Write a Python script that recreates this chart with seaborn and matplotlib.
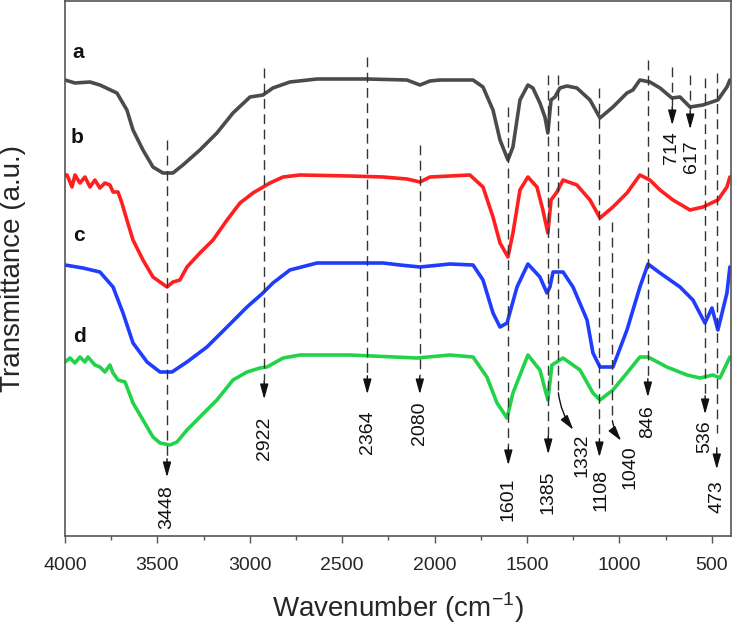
import numpy as np
import pandas as pd
import matplotlib
matplotlib.use("Agg")
import matplotlib.pyplot as plt
import seaborn as sns

wn_a = [4000, 3946, 3865, 3811, 3719, 3665, 3632, 3578, 3524, 3470, 3416, 3362, 3270, 3178,
        3091, 2999, 2929, 2875, 2783, 2636, 2366, 2150, 2079, 2025, 1971, 1792, 1738, 1684,
        1646, 1603, 1576, 1538, 1495, 1468, 1430, 1403, 1387, 1370, 1349, 1322, 1284, 1230,
        1159, 1105, 1035, 959, 927, 889, 835, 780, 716, 672, 618, 548, 467, 418, 402]
t_a = [4.56, 4.53, 4.54, 4.51, 4.43, 4.26, 4.06, 3.86, 3.69, 3.63, 3.63, 3.71, 3.86, 4.03,
       4.23, 4.39, 4.41, 4.48, 4.54, 4.57, 4.57, 4.56, 4.51, 4.55, 4.56, 4.56, 4.49, 4.26,
       3.96, 3.76, 3.89, 4.36, 4.51, 4.48, 4.33, 4.19, 4.03, 4.36, 4.39, 4.48, 4.50, 4.48,
       4.36, 4.18, 4.29, 4.43, 4.46, 4.56, 4.54, 4.48, 4.38, 4.39, 4.29, 4.31, 4.36, 4.49, 4.56]

wn_b = [4000, 3989, 3962, 3946, 3919, 3892, 3865, 3838, 3811, 3784, 3757, 3740, 3713, 3692,
        3665, 3632, 3578, 3524, 3486, 3448, 3416, 3378, 3340, 3270, 3199, 3123, 3053, 2983,
        2891, 2820, 2728, 2458, 2279, 2149, 2079, 2025, 1809, 1738, 1684, 1646, 1603, 1576,
        1538, 1495, 1446, 1414, 1387, 1370, 1338, 1305, 1230, 1159, 1105, 1035, 959, 889,
        835, 780, 710, 618, 548, 467, 418, 402]
t_b = [3.61, 3.61, 3.49, 3.61, 3.53, 3.59, 3.49, 3.56, 3.48, 3.53, 3.51, 3.44, 3.44, 3.33,
       3.16, 2.96, 2.76, 2.59, 2.54, 2.49, 2.54, 2.56, 2.69, 2.83, 2.96, 3.16, 3.33, 3.43,
       3.53, 3.59, 3.61, 3.60, 3.59, 3.57, 3.54, 3.59, 3.61, 3.49, 3.19, 2.93, 2.79, 3.03,
       3.46, 3.59, 3.49, 3.26, 3.03, 3.36, 3.44, 3.56, 3.51, 3.36, 3.18, 3.29, 3.43, 3.61,
       3.56, 3.46, 3.36, 3.26, 3.29, 3.36, 3.49, 3.59]

wn_c = [4000, 3903, 3811, 3740, 3686, 3632, 3556, 3486, 3421, 3340, 3232, 3123, 3015, 2929,
        2875, 2783, 2636, 2279, 2187, 2079, 1917, 1792, 1738, 1684, 1646, 1608, 1554, 1495,
        1430, 1392, 1376, 1359, 1305, 1251, 1175, 1143, 1105, 1035, 959, 889, 845, 780, 672,
        602, 537, 499, 467, 418, 402]
t_c = [2.71, 2.68, 2.64, 2.49, 2.23, 1.93, 1.74, 1.64, 1.64, 1.74, 1.89, 2.09, 2.29, 2.43,
       2.53, 2.66, 2.73, 2.73, 2.71, 2.69, 2.72, 2.71, 2.56, 2.23, 2.09, 2.13, 2.49, 2.72,
       2.59, 2.43, 2.49, 2.64, 2.64, 2.49, 2.16, 1.83, 1.69, 1.69, 2.06, 2.49, 2.72, 2.63,
       2.49, 2.36, 2.13, 2.28, 2.06, 2.43, 2.69]

wn_d = [4000, 3973, 3946, 3919, 3892, 3876, 3838, 3811, 3784, 3757, 3740, 3713, 3675, 3632,
        3578, 3524, 3486, 3432, 3394, 3340, 3270, 3178, 3091, 3015, 2945, 2907, 2820, 2728,
        2458, 2095, 1917, 1792, 1717, 1662, 1608, 1576, 1495, 1430, 1387, 1365, 1305, 1213,
        1143, 1105, 1035, 959, 889, 845, 743, 634, 564, 494, 456, 402]
t_d = [1.74, 1.78, 1.73, 1.79, 1.74, 1.79, 1.71, 1.69, 1.64, 1.71, 1.63, 1.56, 1.54, 1.33,
       1.16, 0.99, 0.93, 0.91, 0.94, 1.06, 1.19, 1.36, 1.56, 1.64, 1.68, 1.69, 1.78, 1.81,
       1.81, 1.78, 1.81, 1.79, 1.59, 1.33, 1.18, 1.43, 1.81, 1.66, 1.36, 1.71, 1.78, 1.66,
       1.43, 1.36, 1.46, 1.63, 1.79, 1.79, 1.69, 1.61, 1.58, 1.61, 1.58, 1.79]

curve_names = ["a", "b", "c", "d"]
curve_colors = ["#4b4b4b", "#ff1f1f", "#1f3cff", "#22d34a"]

# peak labels
peaks = [3448, 2922, 2364, 2080, 1601, 1385, 1332, 1108, 1040, 846, 714, 617, 536, 473]
peak_text = [str(p) for p in peaks]

# layout of the peak markers: dashed top, dashed end, arrow tip (x, y), label (x, y)
line_top = [3.96, 4.68, 4.79, 3.91, 4.29, 4.61, 4.61, 4.48, 3.14, 4.76, 4.69, 4.61, 4.58, 4.63]
line_end = [0.78, 1.56, 1.61, 1.61, 0.90, 1.01, 1.46, 0.98, 1.18, 1.58, 4.30, 4.26, 1.41, 1.03]
tip_x = [3448, 2922, 2364, 2080, 1601, 1385, 1240, 1108, 981, 846, 714, 617, 536, 473]
tip_y = [0.56, 1.34, 1.39, 1.39, 0.68, 0.79, 1.04, 0.76, 0.93, 1.36, 4.08, 4.04, 1.19, 0.64]
arr_from = [0.80, 1.58, 1.63, 1.63, 0.92, 1.03, 1.46, 1.00, 1.18, 1.60, 4.32, 4.28, 1.43, 0.91]
lab_x = [3448, 2922, 2364, 2080, 1601, 1385, 1203, 1100, 943, 846, 720, 612, 536, 473]
lab_y = [0.29, 0.98, 1.04, 1.13, 0.37, 0.44, 0.81, 0.46, 0.69, 1.14, 3.88, 3.79, 0.99, 0.39]
bent = [False] * 6 + [True, False, True] + [False] * 5

sns.set_style("ticks")
plt.rcParams['font.family'] = ['Liberation Sans', 'DejaVu Sans']

fig = plt.figure(figsize=(7.33, 6.26), dpi=100)
ax = fig.add_axes([65 / 733, 1 - 536 / 626, 666 / 733, 535 / 626])

for name, wn, t, col in zip(curve_names, [wn_a, wn_b, wn_c, wn_d], [t_a, t_b, t_c, t_d], curve_colors):
    df = pd.DataFrame({"wn": wn, "t": t})
    sns.lineplot(data=df, x="wn", y="t", color=col, lw=2.6, ax=ax, sort=False)

label_pos = [(3930, 4.83), (3935, 3.98), (3924, 3.00), (3919, 1.99)]
for name, (x, y) in zip(curve_names, label_pos):
    ax.text(x, y, name, fontsize=15, fontweight="bold", ha="center", va="center", color="#111111")

for i, p in enumerate(peaks):
    ax.plot([p, p], [line_top[i], line_end[i]], ls=(0, (7, 4)), color="#333333", lw=1.0)
    style = "arc3,rad=0.15" if bent[i] else "arc3,rad=0"
    ax.annotate("", xy=(tip_x[i], tip_y[i]), xytext=(p, arr_from[i]),
                arrowprops=dict(arrowstyle="-|>,head_length=0.9,head_width=0.25",
                                connectionstyle=style, color="#111111", lw=1.0))
    ax.text(lab_x[i], lab_y[i], peak_text[i], rotation=90, fontsize=14,
            ha="center", va="center", color="#111111")

ax.set_xlim(4000, 396)
ax.set_ylim(0, 5.35)
ax.set_yticks([])
ax.set_xticks([4000, 3500, 3000, 2500, 2000, 1500, 1000, 500])
ax.set_xticks(np.arange(3750, 399, -500), minor=True)
ax.tick_params(axis="x", which="major", labelsize=14, length=5, width=1, color="#555555", pad=10)
ax.tick_params(axis="x", which="minor", length=3, width=1, color="#555555")
for s in ax.spines.values():
    s.set_visible(True)
    s.set_color("#555555")
    s.set_linewidth(1.2)

ax.set_xlabel("Wavenumber (cm$^{\\mathregular{-1}}$)", fontsize=20)
ax.set_ylabel("Transmittance (a.u.)", fontsize=20)
ax.xaxis.set_label_coords(0.5, -0.102)
ax.yaxis.set_label_coords(-0.058, 0.5)

fig.savefig("out.png", dpi=100)
